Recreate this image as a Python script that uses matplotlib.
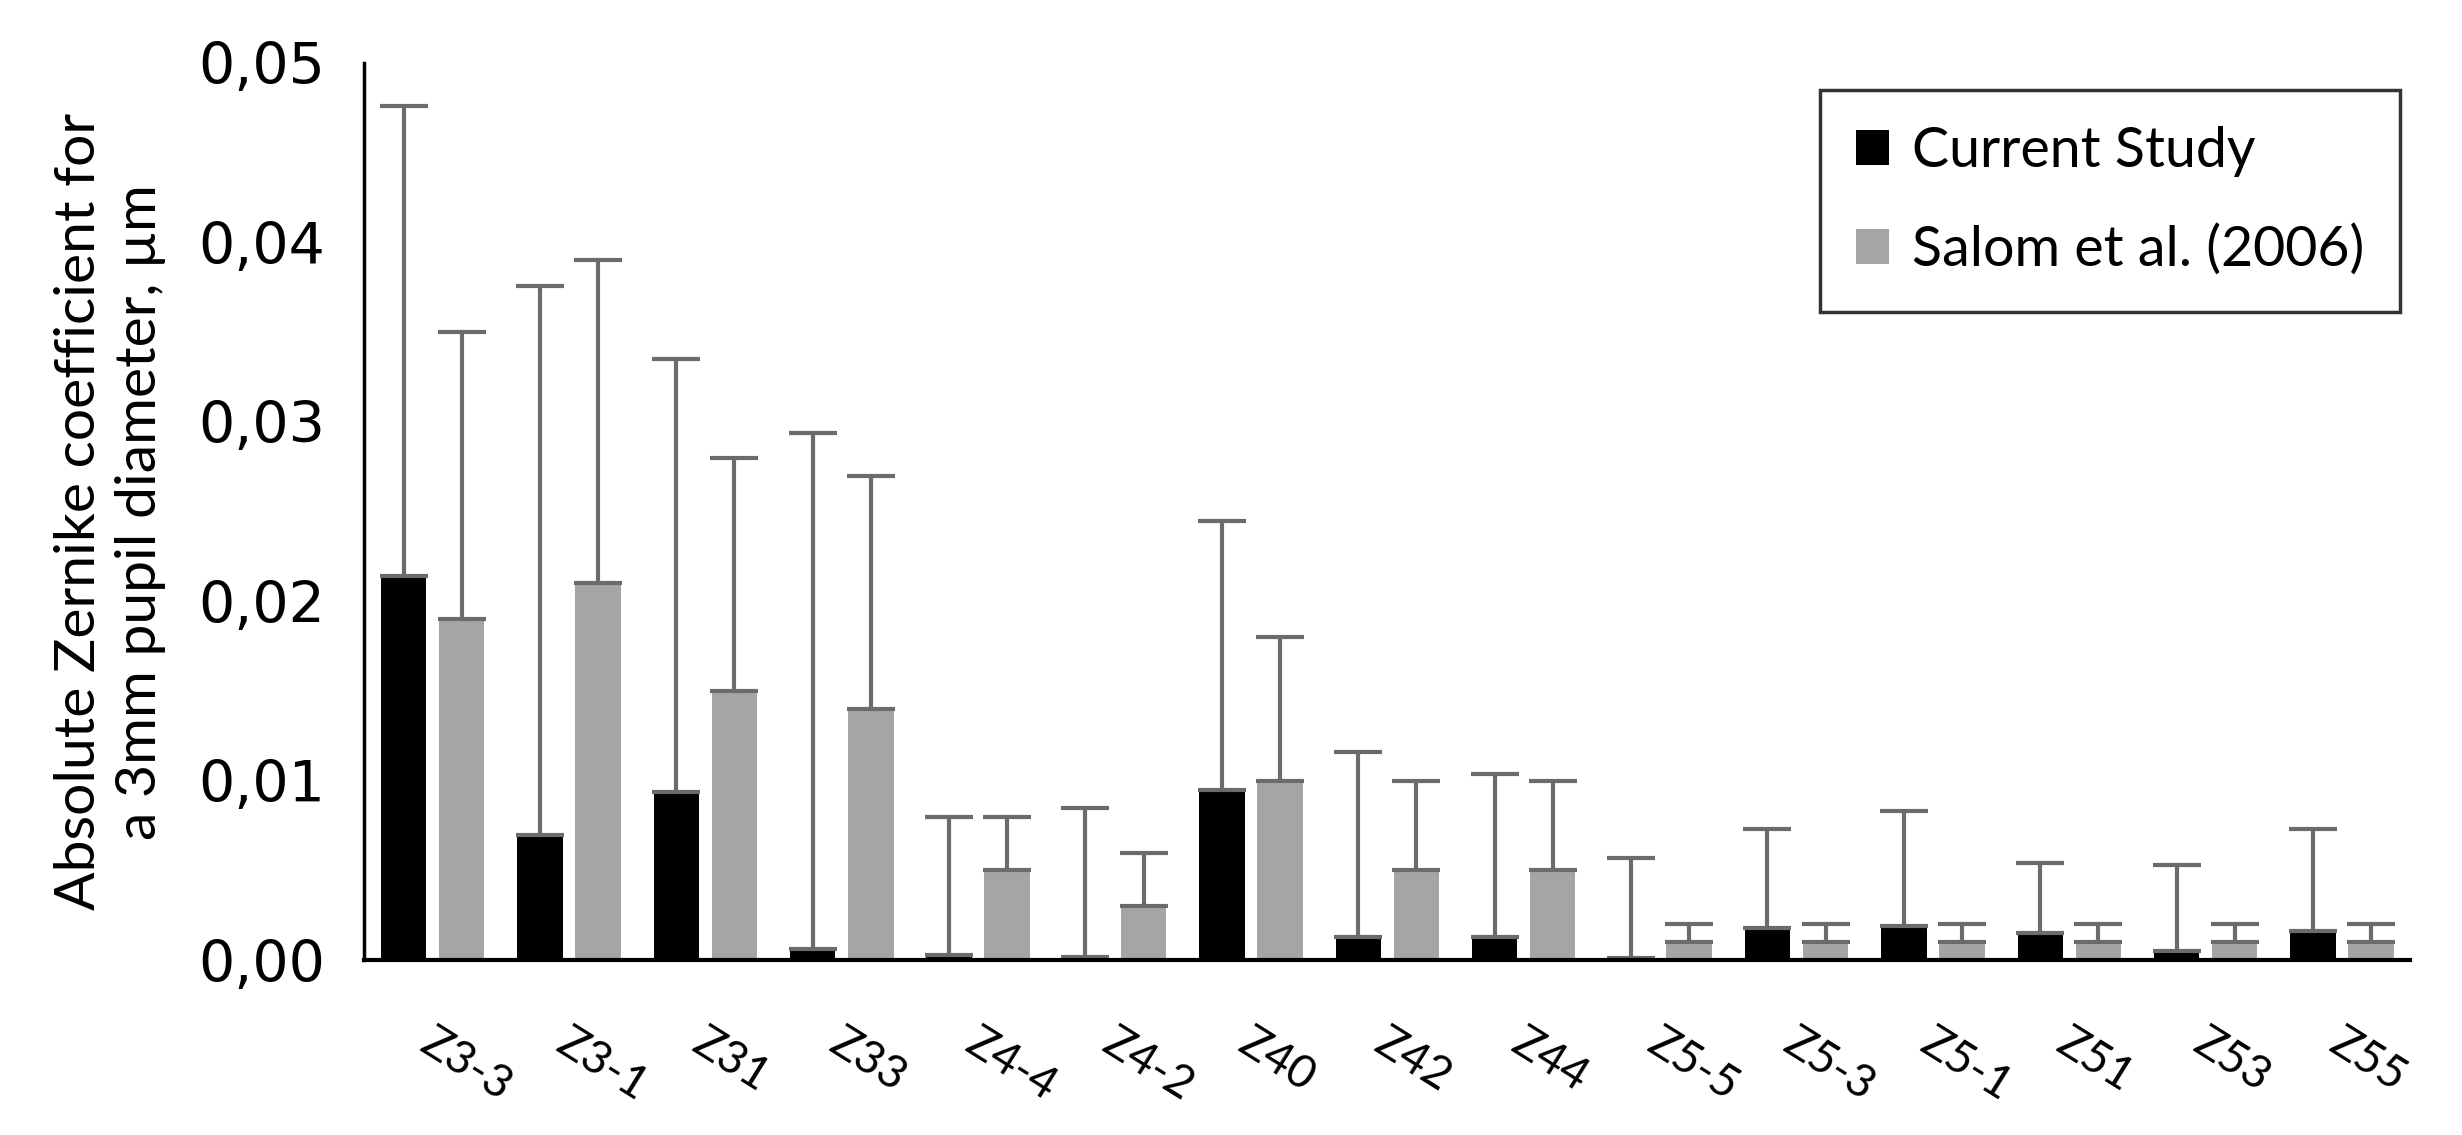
import matplotlib
matplotlib.use("Agg")
import matplotlib.pyplot as plt
import numpy as np

# Dados
termos = ["Z3-3", "Z3-1", "Z31", "Z33", "Z4-4", "Z4-2", "Z40", "Z42", "Z44",
          "Z5-5", "Z5-3", "Z5-1", "Z51", "Z53", "Z55"]
atual_media = [0.0214, 0.0070, 0.0094, 0.0006, 0.0003, 0.0002, 0.0095, 0.0013,
               0.0013, 0.0001, 0.0018, 0.0019, 0.0015, 0.0005, 0.0016]
atual_dp = [0.0262, 0.0306, 0.0241, 0.0288, 0.0077, 0.0083, 0.0150, 0.0103,
            0.0091, 0.0056, 0.0055, 0.0064, 0.0039, 0.0048, 0.0057]
salom_media = [0.019, 0.021, 0.015, 0.014, 0.005, 0.003, 0.010, 0.005,
               0.005, 0.001, 0.001, 0.001, 0.001, 0.001, 0.001]
salom_dp = [0.016, 0.018, 0.013, 0.013, 0.003, 0.003, 0.008, 0.005,
            0.005, 0.001, 0.001, 0.001, 0.001, 0.001, 0.001]
rotulos_y = ["0,00", "0,01", "0,02", "0,03", "0,04", "0,05"]

COR_ATUAL = "#000000"
COR_SALOM = "#a5a5a5"
COR_ERRO = "#6b6b6b"
FONTE = ["Lato", "DejaVu Sans"]

fig = plt.figure(figsize=(24.62, 11.35), dpi=100)
ax = fig.add_axes([0.148, 0.154, 0.831, 0.7905])

x = np.arange(len(termos))
larg = 0.333
desl = 0.213
erro_kw = dict(ecolor=COR_ERRO, elinewidth=3, capsize=17, capthick=3)

zeros = np.zeros(len(termos))
ax.bar(x - desl, atual_media, larg, color=COR_ATUAL, label="Current Study",
       yerr=[zeros, atual_dp], error_kw=erro_kw, zorder=2)
ax.bar(x + desl, salom_media, larg, color=COR_SALOM, label="Salom et al. (2006)",
       yerr=[zeros, salom_dp], error_kw=erro_kw, zorder=2)

ax.set_xlim(-0.5, 14.5)
ax.set_ylim(0, 0.05)

ax.set_yticks(np.arange(0, 0.051, 0.01))
ax.set_yticklabels(rotulos_y, fontsize=41, family="DejaVu Sans")
ax.tick_params(axis="y", length=0, pad=28)

ax.set_xticks(x + 0.02)
ax.set_xticklabels(termos, rotation=-32, ha="left", va="top",
                   rotation_mode="anchor", fontsize=33, family=FONTE)
ax.tick_params(axis="x", length=0, pad=44)

for lado in ["top", "right"]:
    ax.spines[lado].set_visible(False)
ax.spines["left"].set_linewidth(2.5)
ax.spines["bottom"].set_linewidth(3)

ax.set_ylabel("Absolute Zernike coefficient for\na 3mm pupil diameter, µm",
              fontsize=41, family=FONTE, linespacing=1.25)
ax.yaxis.set_label_coords(-0.097, 0.5)

leg = ax.legend(loc="upper right", bbox_to_anchor=(0.995, 0.97),
                borderaxespad=0, fancybox=False, edgecolor="black",
                prop=dict(family=FONTE, size=40), handlelength=0.6,
                handleheight=0.6, handletextpad=0.4, labelspacing=0.85,
                borderpad=0.65)
leg.get_frame().set_linewidth(2.5)

fig.savefig("out.png", dpi=100)
